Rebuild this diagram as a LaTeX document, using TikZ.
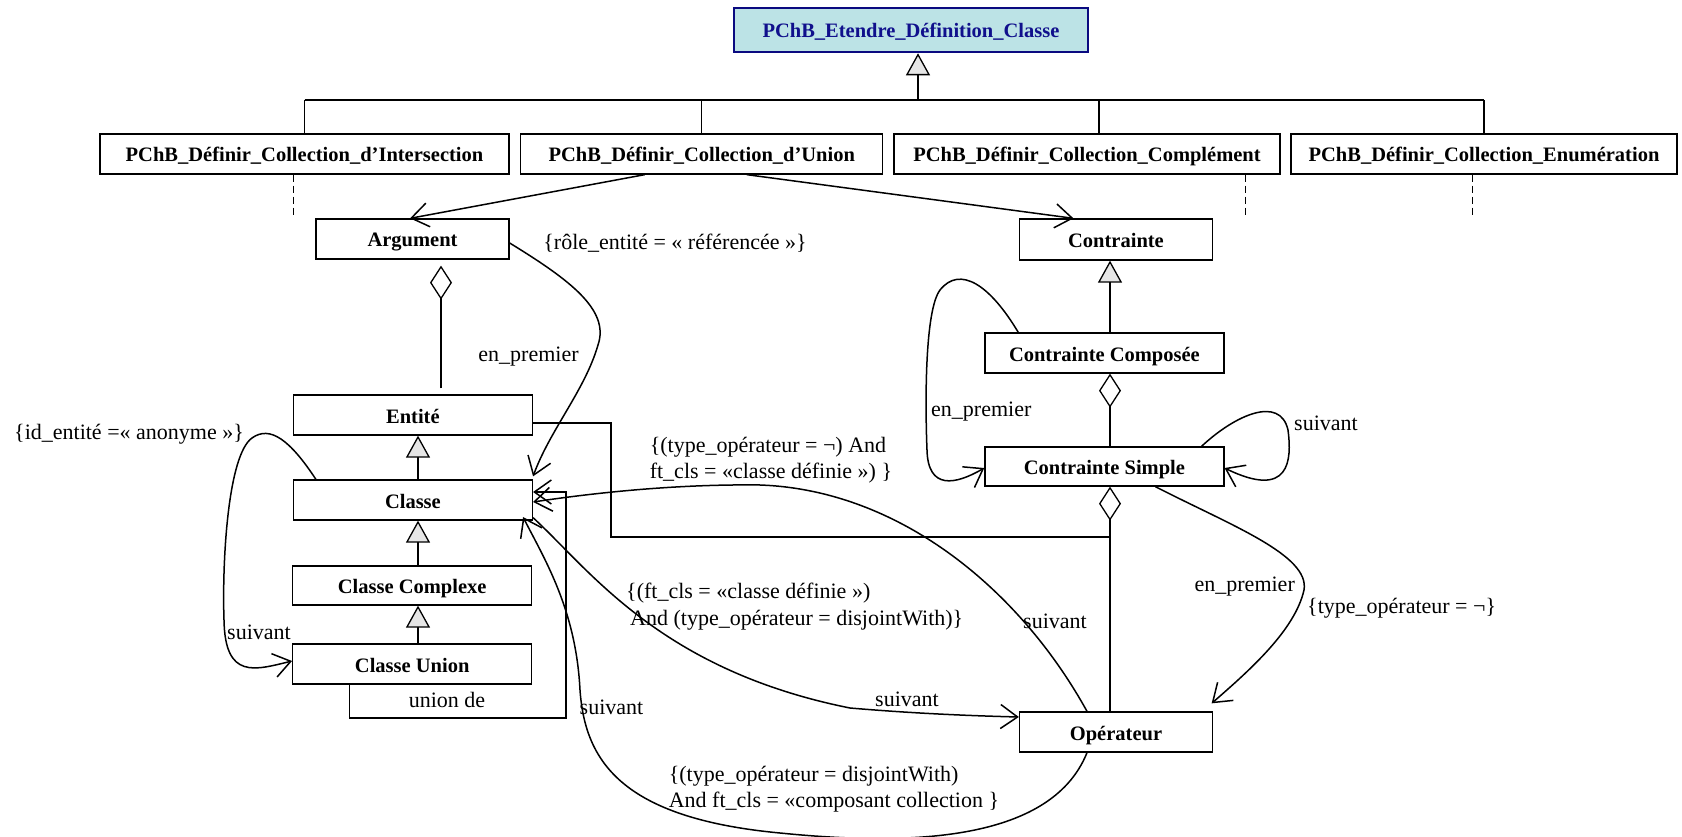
\documentclass[tikz,border=0pt]{standalone}
\usepackage{fontspec}
\setmainfont{Liberation Serif}
\usetikzlibrary{arrows.meta}
\definecolor{topfill}{HTML}{BCE3E6}
\definecolor{topdraw}{HTML}{0A0A80}
\definecolor{toptext}{HTML}{10108C}
\definecolor{genfill}{HTML}{E6E6E6}
\tikzset{
  box/.style={draw, line width=1.3pt, minimum height=40pt, inner sep=0pt, text height=16pt, text depth=0pt, font=\bfseries\fontsize{20.5}{24}\selectfont},
  lbl/.style={font=\fontsize{22}{26.5}\selectfont, inner sep=0pt},
  plain/.style={line width=1.3pt},
  gen/.style={line width=1.3pt, -{Triangle[length=22pt,width=24pt,fill=genfill,line width=1.3pt]}},
  agg/.style={line width=1.3pt, -{Diamond[length=34pt,width=22pt,fill=white,line width=1.3pt]}},
  nav/.style={line width=1.5pt, -{Straight Barb[length=17pt,width=24pt,line width=1.5pt]}},
  dashline/.style={line width=1pt, dash pattern=on 7pt off 4pt},
}
\begin{document}
\begin{tikzpicture}[x=1pt,y=-1pt]
\useasboundingbox (0,0) rectangle (1682,837);

% boxes
\node[box, fill=topfill, draw=topdraw, line width=2.6pt, text=toptext, minimum width=354pt, minimum height=44pt] (top) at (911,30) {PChB\_Etendre\_Définition\_Classe};
\node[box, minimum width=409pt] (inter) at (304.5,154) {PChB\_Définir\_Collection\_d’Intersection};
\node[box, minimum width=362pt] (union) at (701.8,154) {PChB\_Définir\_Collection\_d’Union};
\node[box, minimum width=386pt] (compl) at (1087,154) {PChB\_Définir\_Collection\_Complément};
\node[box, minimum width=386pt] (enum) at (1484,154) {PChB\_Définir\_Collection\_Enumération};

\node[box, minimum width=193pt] (arg) at (412.5,239) {Argument};
\node[box, minimum width=193pt, minimum height=41pt] (contr) at (1116,239.5) {Contrainte};
\node[box, minimum width=239pt] (comp) at (1104.4,353) {Contrainte Composée};
\node[box, minimum width=239pt, minimum height=39pt] (simple) at (1104.4,466.5) {Contrainte Simple};
\node[box, minimum width=193pt] (oper) at (1116,732) {Opérateur};

\node[box, minimum width=239pt] (entite) at (412.9,415) {Entité};
\node[box, minimum width=239pt] (classe) at (412.9,500) {Classe};
\node[box, minimum width=239pt, minimum height=39pt] (complexe) at (412.2,585.5) {Classe Complexe};
\node[box, minimum width=239pt] (cunion) at (412.2,664) {Classe Union};

% top hierarchy
\coordinate (gTop) at (918,100);
\coordinate (cx) at (1099,100);
\draw[gen] (gTop) -- (gTop |- top.south);
\draw[plain] (inter.north |- gTop) -- (enum.north |- gTop);
\draw[plain] (inter.north |- gTop) -- (inter.north);
\draw[plain] (union.north |- gTop) -- (union.north);
\draw[plain] (cx) -- (cx |- compl.north);
\draw[plain] (enum.north |- gTop) -- (enum.north);

\draw[dashline] ([xshift=-11pt]inter.south) -- ++(0,41);
\draw[dashline] ([xshift=158pt]compl.south) -- ++(0,41);
\draw[dashline] ([xshift=-12pt]enum.south) -- ++(0,41);

% union navigations
\draw[nav] ([xshift=-57pt]union.south) -- ([xshift=-2.5pt]arg.north);
\draw[nav] ([xshift=45pt]union.south) -- ([xshift=-42.5pt]contr.north);

% left column
\coordinate (ax2) at (441,0);
\draw[agg, shorten <=6pt, shorten >=6pt] (ax2 |- entite.north) -- (ax2 |- arg.south);
\coordinate (lx) at (418,0);
\draw[gen] (lx |- classe.north) -- (lx |- entite.south);
\draw[gen] (lx |- complexe.north) -- (lx |- classe.south);
\draw[gen] (lx |- cunion.north) -- (lx |- complexe.south);

% right column
\coordinate (ax) at (1110,537);
\draw[gen] (ax |- comp.north) -- (ax |- contr.south);
\draw[agg] (ax |- simple.north) -- (ax |- comp.south);
\draw[agg] (ax |- oper.north) -- (ax |- simple.south);
\draw[plain] ([yshift=-8pt]entite.east) -| (611,537) -- (ax);

% union de
\coordinate (ud) at (566,718);
\draw[nav] ([xshift=-62.8pt]cunion.south) |- (ud) |- ([yshift=8pt]classe.east);
\node[lbl] (lud) at (447,700) {union de};

% Classe self loop to Classe Union
\draw[nav] ([xshift=-97pt]classe.north) .. controls (290,440) and (270,425) .. (252,438)
  .. controls (228,455) and (222,560) .. (224,620)
  .. controls (225,680) and (255,670) .. ([yshift=3pt]cunion.west);
\node[lbl, anchor=west] (lanon) at (14,434) {\{id\_entité =« anonyme »\}};
\node[lbl, anchor=west] (lsuiv1) at (227,632) {suivant};

% Argument en_premier -> Classe
\draw[nav] ([yshift=-4pt]arg.east) .. controls (570,280) and (610,310) .. (598,345)
  .. controls (585,390) and (550,430) .. ([yshift=3pt]classe.north east);
\node[lbl] (lrole) at (675,243) {\{rôle\_entité = « référencée »\}};
\node[lbl] (lprem1) at (528.5,357) {en\_premier};

% Operateur -> Classe suivant
\draw[nav] ([xshift=-29pt]oper.north) .. controls (1020,590) and (900,490) .. (760,485)
  .. controls (680,484) and (600,492) .. ([yshift=-2pt]classe.east);
\node[lbl] (lsuiv2) at (1055,621) {suivant};
\node[lbl, anchor=west, align=left] (lneg) at (649.6,460) {\{(type\_opérateur = ¬) And\\ft\_cls = «classe définie ») \}};

% Classe -> Operateur suivant
\draw[nav] ([yshift=3pt]classe.south east) .. controls (590,570) and (660,670) .. (850,708)
  .. controls (920,714) and (980,716) .. ([yshift=15pt]oper.west);
\node[lbl] (lsuiv3) at (907,699) {suivant};
\node[lbl, anchor=west, align=left] (ldis) at (626,606.5) {\{(ft\_cls = «classe définie »)\\\hspace*{4pt}And (type\_opérateur = disjointWith)\}};

% long bottom curve Operateur -> Classe
\draw[nav] ([xshift=-29pt]oper.south) .. controls (1050,845) and (900,845) .. (780,833)
  .. controls (620,818) and (585,760) .. (580,690)
  .. controls (576,610) and (545,560) .. ([xshift=-10pt,yshift=3.6pt]classe.south east);
\node[lbl] (lsuiv4) at (611.5,707) {suivant};
\node[lbl, anchor=west, align=left] (lcoll) at (668.6,789) {\{(type\_opérateur = disjointWith)\\And ft\_cls = «composant collection \}};

% Contrainte Simple -> Operateur en_premier
\draw[nav] ([xshift=51pt]simple.south) .. controls (1230,525) and (1310,555) .. (1304,590)
  .. controls (1295,630) and (1250,670) .. ([xshift=-1.5pt,yshift=8pt]oper.north east);
\node[lbl, anchor=east] (lprem3) at (1295,587) {en\_premier};
\node[lbl, anchor=west] (lnot) at (1307,608) {\{type\_opérateur = ¬\}};

% Contrainte Composee self loop en_premier
\draw[nav] ([xshift=34pt]comp.north west) .. controls (990,285) and (960,265) .. (940,290)
  .. controls (925,310) and (925,400) .. (927,450)
  .. controls (928,490) and (955,485) .. ([yshift=-1.5pt]simple.west);
\node[lbl, anchor=west] (lprem2) at (931,412) {en\_premier};

% Contrainte Simple self loop suivant
\draw[nav] ([xshift=-23pt]simple.north east) .. controls (1235,415) and (1280,395) .. (1288,430)
  .. controls (1292,460) and (1290,500) .. ([yshift=-1.5pt]simple.east);
\node[lbl, anchor=west] (lsuiv5) at (1294,423) {suivant};
\end{tikzpicture}
\end{document}
